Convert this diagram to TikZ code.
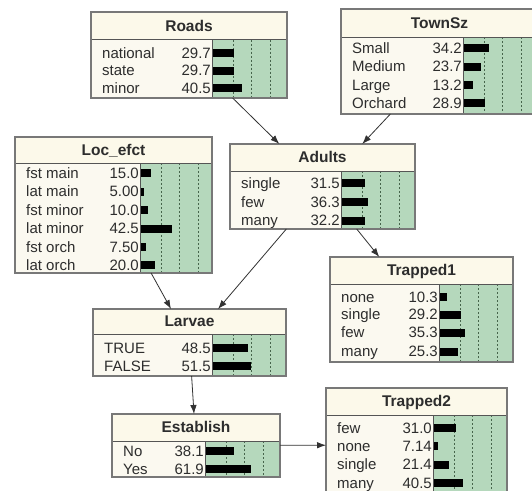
\documentclass[tikz,border=0pt]{standalone}
\usepackage{fontspec}
\setmainfont{Liberation Sans}
\usetikzlibrary{arrows.meta,fit}
\definecolor{titlebg}{RGB}{252,249,234}
\definecolor{bodybg}{RGB}{251,249,240}
\definecolor{greenbg}{RGB}{181,216,188}
\definecolor{bordercol}{RGB}{120,120,120}
\definecolor{sepcol}{RGB}{85,85,85}
\definecolor{dashcol}{RGB}{70,100,75}
\definecolor{txtcol}{RGB}{45,45,45}
\definecolor{arrcol}{RGB}{50,50,50}
\tikzset{
  bnframe/.style={draw=bordercol, line width=1.2pt, inner sep=0pt, outer sep=0pt},
  bntitle/.style={font=\fontsize{15.5}{16}\selectfont\bfseries, text=txtcol, inner sep=0pt, anchor=base},
  bnlabel/.style={font=\fontsize{15}{16}\selectfont, text=txtcol, inner sep=0pt, anchor=base west},
  bnvalue/.style={font=\fontsize{15}{16}\selectfont, text=txtcol, inner sep=0pt, anchor=base east},
  bndash/.style={draw=dashcol, dash pattern=on 2pt off 2pt, line width=0.6pt},
  bnsep/.style={draw=sepcol, line width=1pt},
  bnarrow/.style={draw=arrcol, line width=0.8pt, -{Latex[length=9pt,width=6.5pt]}},
}
% #1 name #2 x1 #3 y1 #4 x2 #5 y2 #6 separator y #7 green start x #8 title #9 rows
\newcommand{\bnnode}[9]{%
  \fill[titlebg] (#2,#3) rectangle (#4,#6);
  \fill[bodybg] (#2,#6) rectangle (#7,#5);
  \fill[greenbg] (#7,#6) rectangle (#4,#5);
  \foreach \d in {21,39.5,58} \draw[bndash] ({#7+\d},#6) -- ({#7+\d},#5);
  \foreach \lab/\val/\pct/\yy [count=\i] in {#9} {
    \node[bnlabel] (#1-l\i) at ({#2+11},{\yy+5.3}) {\lab};
    \node[bnvalue] (#1-v\i) at ({#7-1},{\yy+5.3}) {\val};
    \fill[black] (#7,{\yy-4}) rectangle ({#7+0.75*\pct},{\yy+4});
  }
  \draw[bnsep] (#2,#6) -- (#4,#6);
  \draw[bnsep] (#7,#6) -- (#7,#5);
  \node[bnframe, fit={(#2,#3) (#4,#5)}] (#1) {};
  \node[bntitle] (#1-t) at ({(#2+#4)/2},{(#3+#6)/2+5.3}) {#8};
}
\begin{document}
\begin{tikzpicture}[x=1pt,y=-1pt]
\useasboundingbox (0,0) rectangle (532,490);
\fill[white] (0,0) rectangle (532,490);
\clip (0,0) rectangle (532,490);

\bnnode{roads}{91}{12}{287}{98}{39.5}{212}{Roads}
  {national/29.7/29.7/53, state/29.7/29.7/70.5, minor/40.5/40.5/88}
\bnnode{townsz}{341}{9}{538}{114}{37}{463}{TownSz}
  {Small/34.2/34.2/48, Medium/23.7/23.7/66.5, Large/13.2/13.2/85, Orchard/28.9/28.9/103}
\bnnode{locefct}{15}{137}{212}{273}{163}{140}{Loc\_efct}
  {fst main/15.0/15.0/173, lat main/5.00/5.00/191.5, fst minor/10.0/10.0/210, lat minor/42.5/42.5/228.5, fst orch/7.50/7.50/247, lat orch/20.0/20.0/265}
\bnnode{adults}{230}{144}{415}{229}{171}{341}{Adults}
  {single/31.5/31.5/183, few/36.3/36.3/202, many/32.2/32.2/220.5}
\bnnode{trapped1}{330}{257}{513}{362}{284}{439}{Trapped1}
  {none/10.3/10.3/297, single/29.2/29.2/314.5, few/35.3/35.3/332.5, many/25.3/25.3/351.5}
\bnnode{larvae}{93}{309}{286}{376}{334}{212}{Larvae}
  {TRUE/48.5/48.5/348, FALSE/51.5/51.5/366}
\bnnode{establish}{112}{414}{280}{477}{441}{205}{Establish}
  {No/38.1/38.1/451, Yes/61.9/61.9/469}
\bnnode{trapped2}{326}{388}{507}{502}{415}{433}{Trapped2}
  {few/31.0/31.0/428, none/7.14/7.14/446, single/21.4/21.4/464.5, many/40.5/40.5/483}

\draw[bnarrow] (roads) -- (adults);
\draw[bnarrow] (townsz) -- (adults);
\draw[bnarrow] (locefct) -- (larvae);
\draw[bnarrow] (adults) -- (larvae);
\draw[bnarrow] (adults) -- (trapped1);
\draw[bnarrow] (larvae) -- (establish);
\draw[bnarrow] (establish) -- (trapped2);
\end{tikzpicture}
\end{document}
